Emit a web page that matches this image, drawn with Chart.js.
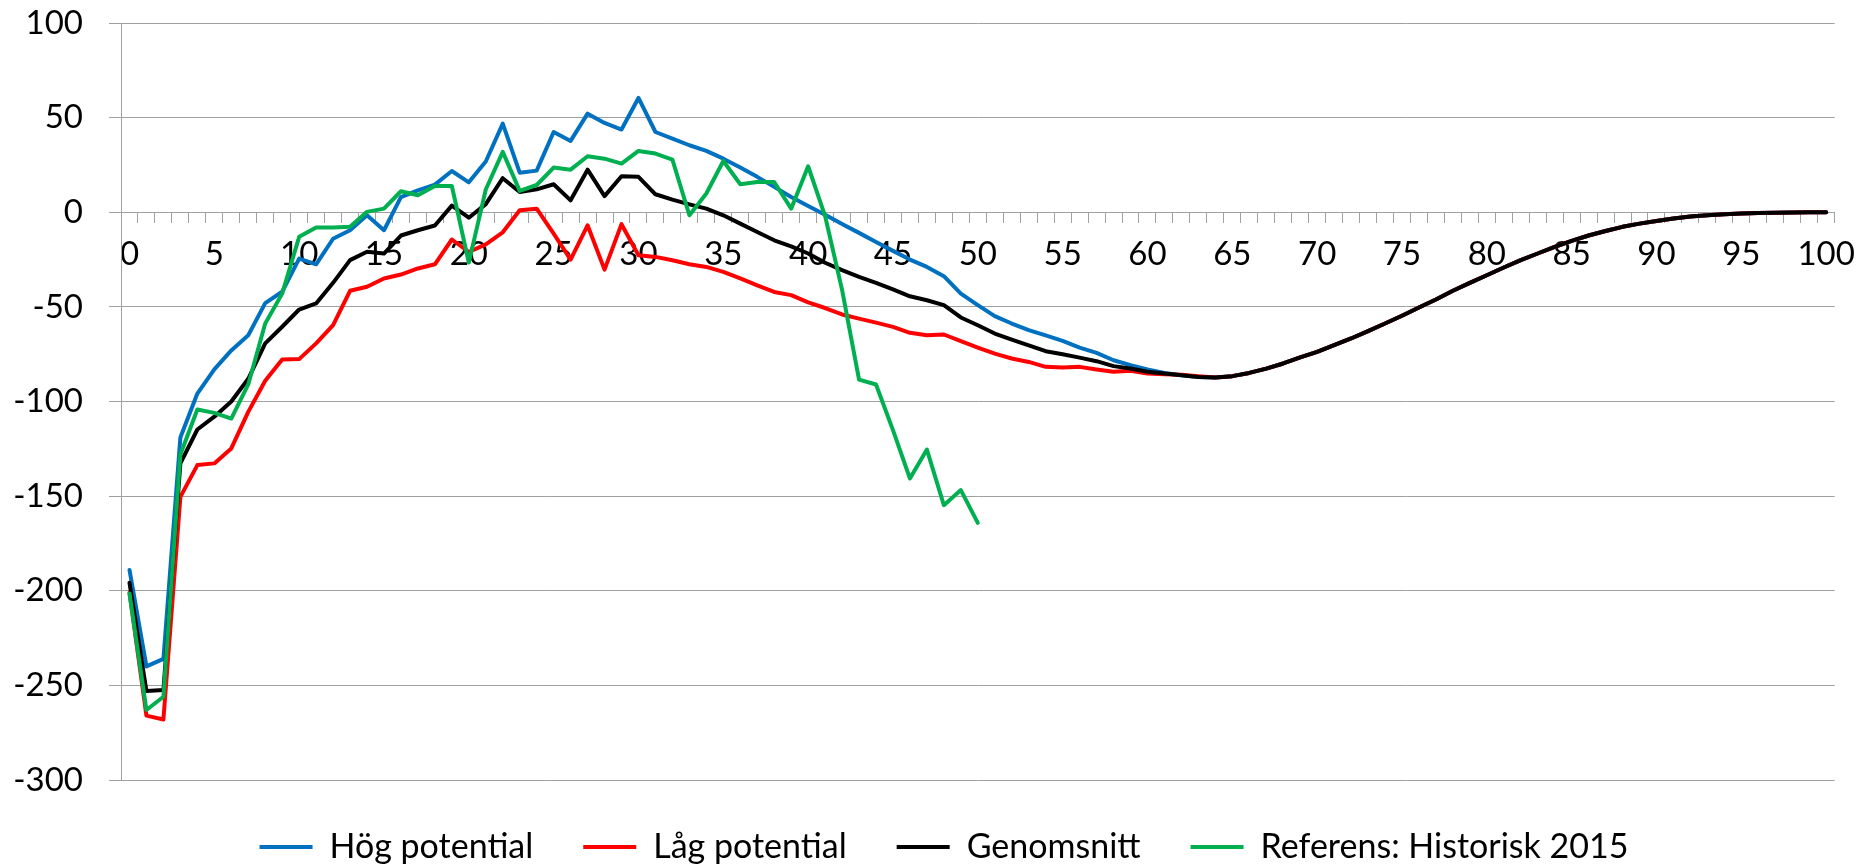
<!DOCTYPE html>
<html lang="sv">
<head>
<meta charset="utf-8">
<title>Potential</title>
<script src="https://cdn.jsdelivr.net/npm/chart.js@4.4.1/dist/chart.umd.min.js"></script>
<style>
  html, body { margin: 0; padding: 0; background: #fff; }
  #wrap { width: 1867px; height: 866px; position: relative; }
</style>
</head>
<body>
<div id="wrap"><canvas id="chart"></canvas></div>
<script>
// x categories 0..100
const ages = Array.from({ length: 101 }, (_, i) => String(i));

// shared end of the curves (64..100), all series coincide here
const tail = [
  -87.3, -86.6, -84.9, -82.6, -79.9, -76.7, -73.8, -70.2, -66.7, -62.8,
  -58.8, -54.7, -50.3, -46.1, -41.5, -37.3, -33.3, -29.2, -25.3, -21.8,
  -18.3, -15.1, -12.3, -9.9, -7.7, -6.0, -4.6, -3.3, -2.3, -1.6,
  -1.1, -0.7, -0.4, -0.2, -0.1, 0, 0
];

// 0..63
const hogHead = [
  -189, -240, -236, -119, -95.8, -83, -73, -65, -48, -42,
  -24.5, -27.5, -14, -9.5, -1.6, -9.5, 8, 11.6, 14.6, 21.8,
  15.8, 26.8, 46.8, 20.9, 22, 42.4, 37.7, 52.1, 47.2, 43.7,
  60.4, 42.4, 38.9, 35.4, 32.4, 28.3, 23.6, 18.7, 13.4, 8.1,
  3.3, -1.3, -6.2, -10.9, -15.7, -20.4, -25, -28.9, -33.8, -43,
  -49.1, -54.9, -58.8, -62.3, -65.1, -68, -71.5, -74.3, -78.2, -80.8,
  -83.1, -84.9, -86.1, -87.1
];

const lagHead = [
  -201, -266, -268, -150.4, -133.6, -132.7, -124.8, -105.5, -89, -77.8,
  -77.6, -69.3, -59.7, -41.5, -39.4, -35, -32.9, -29.7, -27.5, -14.4,
  -21, -17, -10.6, 1.1, 1.9, -11.3, -25, -6.9, -30.3, -6.3,
  -22.7, -23.6, -25.4, -27.5, -28.9, -31.5, -35, -38.6, -42.1, -43.8,
  -47.6, -50.6, -54, -56.2, -58.3, -60.6, -63.7, -65, -64.6, -68.1,
  -71.5, -74.7, -77.3, -79.1, -81.7, -82, -81.7, -83.1, -84.3, -83.8,
  -85.2, -85.6, -85.9, -86.6
];

const snittHead = [
  -195.8, -253, -252.5, -132.7, -114.8, -108, -100, -88, -69.3, -60.5,
  -51.4, -48.2, -37.3, -25.3, -20.9, -21.8, -12.3, -9.5, -7, 3.5,
  -2.9, 4.3, 18, 10.7, 12.1, 14.8, 6.3, 22.5, 8.5, 19,
  18.7, 9.5, 6.7, 4.2, 1.9, -1.6, -6, -10.4, -14.8, -18,
  -21.8, -26.7, -30.6, -34.2, -37.3, -40.8, -44.4, -46.5, -49.1, -55.6,
  -59.7, -64.1, -67.3, -70.3, -73.4, -75, -76.8, -78.7, -81.3, -82.6,
  -84.3, -85.2, -86.1, -87
];

// historical reference, 0..50 only
const referens = [
  -201.4, -263, -256, -128, -104.2, -106, -109, -91, -58.8, -43,
  -13, -8.1, -8.1, -7.7, 0.2, 1.9, 11.1, 9, 13.9, 13.9,
  -26.6, 12, 31.9, 11.3, 14.4, 23.6, 22.5, 29.6, 28.3, 25.7,
  32.4, 31, 27.8, -1.6, 9.9, 27.1, 14.8, 16, 16, 1.9,
  24.3, -2, -41, -88.4, -91, -115.1, -140.7, -125.4, -154.8, -146.8,
  -164.1
];

const hog = hogHead.concat(tail);
const lag = lagHead.concat(tail);
const snitt = snittHead.concat(tail);

const yTicks = [100, 50, 0, -50, -100, -150, -200, -250, -300];

const gridGray = '#a0a0a0';
const fontFamily = "Lato, 'Open Sans', sans-serif";

function series(label, data, color, order) {
  return {
    label: label,
    data: data,
    borderColor: color,
    backgroundColor: color,
    borderWidth: 4,
    pointRadius: 0,
    pointHoverRadius: 0,
    tension: 0,
    borderJoinStyle: 'round',
    borderCapStyle: 'round',
    order: order
  };
}

// keep tick label overflow from pushing the plot area around
function noVertPadding(s) {
  s.paddingTop = 0;
  s.paddingBottom = 0;
}

// legend in the original sits a bit right of the canvas centre
const legendShift = {
  id: 'legendShift',
  afterLayout(chart) {
    if (!chart.legend) return;
    chart.legend.left += 26;
    chart.legend.right += 26;
  }
};

Chart.defaults.font.family = fontFamily;
Chart.defaults.color = '#000';

new Chart(document.getElementById('chart'), {
  type: 'line',
  data: {
    labels: ages,
    datasets: [
      series('Hög potential', hog, '#0070C0', 4),
      series('Låg potential', lag, '#FF0000', 3),
      series('Genomsnitt', snitt, '#000000', 2),
      series('Referens: Historisk 2015', referens, '#00B050', 1)
    ]
  },
  plugins: [legendShift],
  options: {
    responsive: true,
    maintainAspectRatio: false,
    animation: false,
    layout: { padding: { top: 23, right: 31, left: 0, bottom: 0 } },
    plugins: {
      tooltip: { enabled: false },
      legend: {
        position: 'bottom',
        maxHeight: 86,
        labels: {
          usePointStyle: true,
          pointStyle: 'line',
          pointStyleWidth: 53,
          boxHeight: 4,
          padding: 50,
          font: { size: 34 },
          color: '#000',
          sort: (a, b) => a.datasetIndex - b.datasetIndex
        }
      }
    },
    scales: {
      x: {
        type: 'category',
        position: { y: 0 },
        offset: true,
        afterFit: noVertPadding,
        grid: {
          offset: true,
          drawOnChartArea: false,
          drawTicks: true,
          tickLength: 10,
          color: gridGray
        },
        border: { color: gridGray, width: 1 },
        ticks: {
          autoSkip: false,
          maxRotation: 0,
          padding: 12,
          font: { size: 33 },
          color: '#000',
          callback: function (v, i) { return i % 5 === 0 ? ages[i] : ''; }
        }
      },
      y: {
        min: -300,
        max: 100,
        afterFit: function (s) { s.width = 121; noVertPadding(s); },
        afterBuildTicks: function (s) { s.ticks = yTicks.map(v => ({ value: v })); },
        grid: {
          color: gridGray,
          lineWidth: 1,
          drawTicks: true,
          tickLength: 12
        },
        border: { color: gridGray, width: 1 },
        ticks: {
          padding: 26,
          font: { size: 33 },
          color: '#000'
        }
      }
    }
  }
});
</script>
</body>
</html>
